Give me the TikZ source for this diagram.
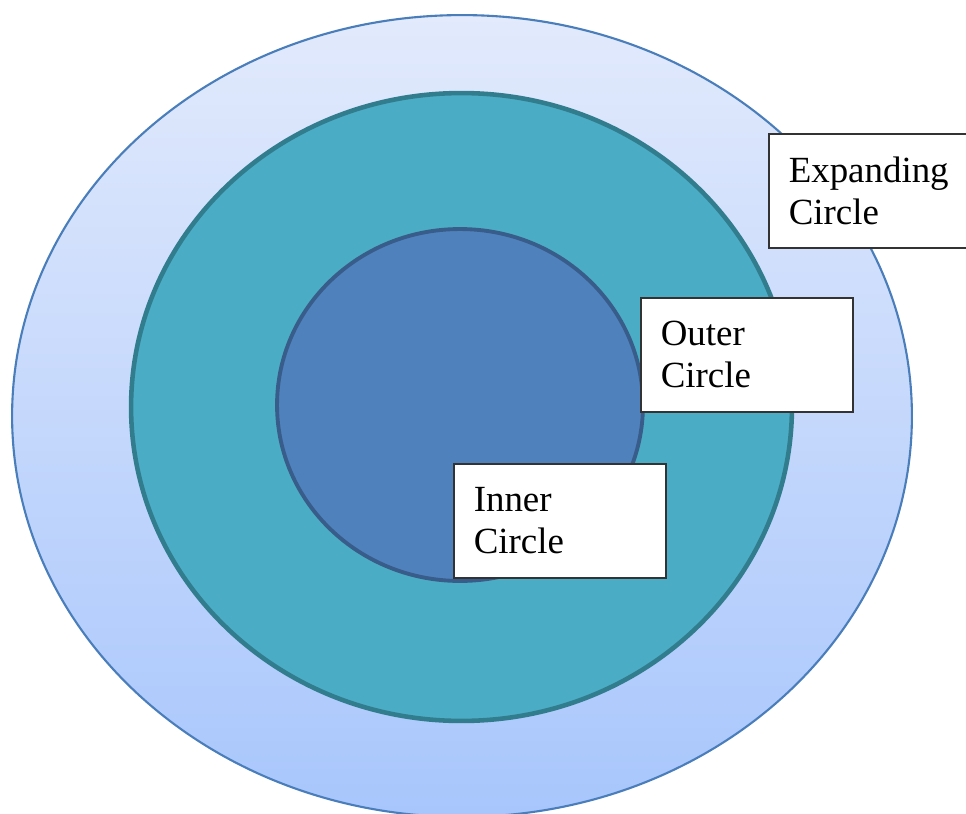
\documentclass[tikz,border=0pt]{standalone}
\usepackage{fontspec}
\setmainfont{Liberation Serif}
\usetikzlibrary{shapes.geometric}

\definecolor{skyfill}{HTML}{A8C6FC}
\definecolor{skytop}{HTML}{E2EAFC}
\definecolor{skyline}{HTML}{4A7EBB}
\definecolor{tealfill}{HTML}{4BACC6}
\definecolor{tealline}{HTML}{317D8E}
\definecolor{bluefill}{HTML}{4F81BD}
\definecolor{blueline}{HTML}{385D8A}

\begin{document}
\begin{tikzpicture}[x=0.02cm,y=-0.02cm,
    ring/.style={ellipse,inner sep=0pt},
    label box/.style={draw=black!80,line width=0.9pt,fill=white,anchor=north west,
        minimum width=4.24cm,minimum height=2.28cm,text width=3.44cm,align=left,
        inner xsep=0.4cm,font=\fontsize{21}{24}\selectfont}]
    \useasboundingbox (0,0) rectangle (966,814);

    \node[ring,draw=skyline,line width=1.2pt,top color=skytop,bottom color=skyfill,
        minimum width=18cm,minimum height=16.04cm] (expanding) at (462,416) {};
    \node[ring,draw=tealline,line width=2.6pt,fill=tealfill,
        minimum width=13.22cm,minimum height=12.56cm] (outer) at (461.5,407) {};
    \node[ring,draw=blueline,line width=2.2pt,fill=bluefill,
        minimum width=7.32cm,minimum height=7.04cm] (inner) at (460,405) {};

    \node[label box] (expbox) at (768,133) {Expanding\\Circle};
    \node[label box] (outbox) at (640,297) {Outer\\Circle};
    \node[label box] (inbox)  at (453,463) {Inner\\Circle};
\end{tikzpicture}
\end{document}
